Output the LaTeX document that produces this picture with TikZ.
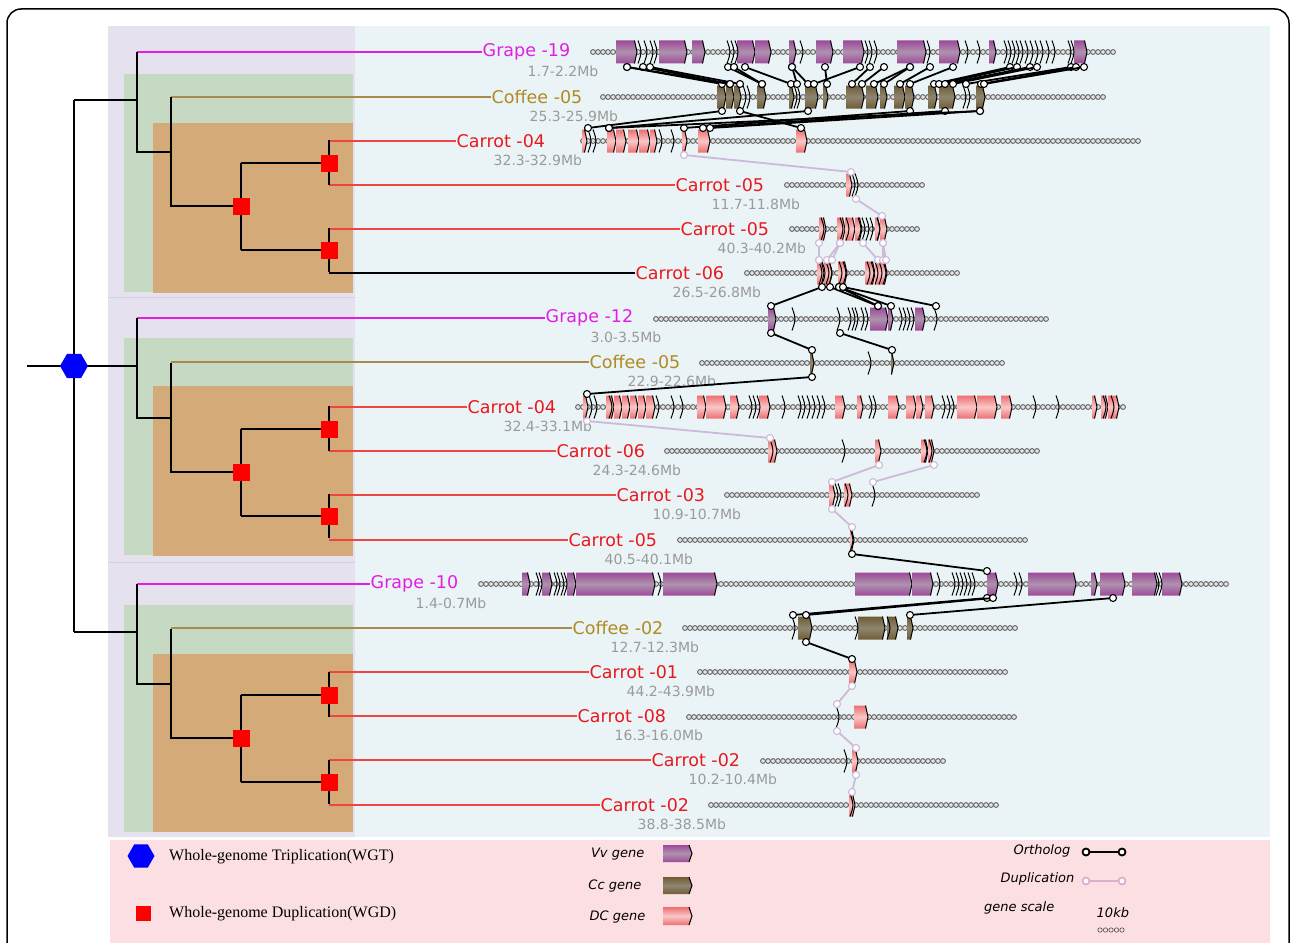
\documentclass[tikz,border=0pt]{standalone}
\usepackage{fontspec}
\setmainfont{DejaVu Sans}
\newfontfamily\serifleg{Liberation Serif}
\usetikzlibrary{shapes.geometric}
\definecolor{panelL}{HTML}{E6E1EE}
\definecolor{panelR}{HTML}{EAF4F6}
\definecolor{greenP}{HTML}{C6D9C3}
\definecolor{orangeP}{HTML}{D3AA78}
\definecolor{legendP}{HTML}{FCDFE2}
\definecolor{grapec}{HTML}{E21EE2}
\definecolor{coffeec}{HTML}{B08A22}
\definecolor{carrotc}{HTML}{E8191E}
\definecolor{coffeeline}{HTML}{A88A4A}
\definecolor{carrotline}{HTML}{EE4444}
\definecolor{subc}{HTML}{9A9A9A}
\definecolor{vvD}{HTML}{9E4A9A}
\definecolor{vvL}{HTML}{AE92AE}
\definecolor{ccD}{HTML}{6E5C35}
\definecolor{ccL}{HTML}{8F8670}
\definecolor{dcD}{HTML}{EE6E70}
\definecolor{dcL}{HTML}{FAC8C8}
\definecolor{dupc}{HTML}{CDB9D9}
\definecolor{dupleg}{HTML}{DBB0CC}
\definecolor{divc}{HTML}{D6D0DE}
\newcounter{lk}
\tikzset{
  tl/.style={line width=1.8pt,black},
  grapel/.style={line width=1.6pt,grapec},
  coffeel/.style={line width=1.6pt,coffeeline},
  carrotl/.style={line width=1.6pt,carrotline},
  blackl/.style={line width=1.6pt,black},
  lab/.style={font=\fontsize{17.5}{20}\selectfont,anchor=west,inner sep=0.5pt},
  sublab/.style={font=\fontsize{14}{16}\selectfont,anchor=west,inner sep=0.5pt,text=subc},
  wgd/.style={fill=red,minimum size=17pt,inner sep=0pt},
  wgt/.style={regular polygon,regular polygon sides=6,fill=blue,minimum size=28pt,inner sep=0pt},
  chaindot/.style={draw=black!62,fill=black!10,line width=0.9pt},
  vv/.style={top color=vvD,bottom color=vvD,middle color=vvL},
  cc/.style={top color=ccD,bottom color=ccD,middle color=ccL},
  dc/.style={top color=dcD,bottom color=dcD,middle color=dcL},
  genedge/.style={line width=1pt,black},
  olk/.style={line width=1.8pt,black},
  dlk/.style={line width=1.8pt,dupc},
  odot/.style={circle,draw=black,fill=white,line width=1.1pt,minimum size=7pt,inner sep=0pt},
  ddot/.style={circle,draw=dupc,fill=white,line width=1.1pt,minimum size=7pt,inner sep=0pt},
  legit/.style={font=\fontsize{13}{15}\selectfont\itshape,inner sep=0.5pt},
}
\newcommand\chainrow[3]{%
  \pgfmathtruncatemacro\nch{(#2-#1)/5}%
  \foreach \i in {0,...,\nch}{\draw[chaindot] (#1+5*\i,#3) circle[radius=2.4];}}
\newcommand\gb[4]{%
  \shade[#4] (#1,#3-11.5) -- (#2-2.5,#3-11.5) -- (#2,#3) -- (#2-2.5,#3+11.5) -- (#1,#3+11.5) -- cycle;
  \draw[genedge] (#2-2.5,#3-11.5) -- (#2,#3) -- (#2-2.5,#3+11.5);}
\newcommand\chv[2]{\draw[genedge] (#1-1,#2-11.5) .. controls (#1+3,#2) .. (#1-1,#2+11.5);}
\newcommand\olink[5]{%
  \stepcounter{lk}%
  \coordinate (la\arabic{lk}) at (#2,#3);
  \coordinate (lb\arabic{lk}) at (#4,#5);
  \draw[#1lk] (la\arabic{lk}) -- (lb\arabic{lk});
  \node[#1dot] at (la\arabic{lk}) {};
  \node[#1dot] at (lb\arabic{lk}) {};}
\newcommand\leaf[9]{%
  \node[lab,text=#5] (#1) at (#4,#3) {#7};
  \node[sublab] (#1s) at (#8,#3+19.5) {#9};
  \draw[#6] (#2,#3) -- (#1.west);}
\begin{document}
\begin{tikzpicture}[x=1pt,y=-1pt]
\useasboundingbox (0,0) rectangle (1292,942);
\clip (0,0) rectangle (1292,942);
\fill[white] (0,0) rectangle (1292,942);
% frame
\draw[line width=1.5pt,rounded corners=14pt] (7,9) rectangle (1289,980);
% panels
\fill[panelR] (355,26) rectangle (1270,837);
\fill[panelL] (108,26) rectangle (355,837);
\draw[divc,line width=0.8pt] (108,297) -- (355,297);
\draw[divc,line width=0.8pt] (108,562) -- (355,562);
\fill[greenP] (124,74) rectangle (353,292);
\fill[orangeP] (153,123) rectangle (353,293);
\fill[greenP] (124,338) rectangle (353,555);
\fill[orangeP] (153,386) rectangle (353,556);
\fill[greenP] (124,605) rectangle (353,832);
\fill[orangeP] (153,654) rectangle (353,832);
\fill[legendP] (110,840) rectangle (1270,960);
% leaves and labels
\leaf{g19}{137}{52}{482}{grapec}{grapel}{Grape -19}{527}{1.7-2.2Mb}
\leaf{c05a}{171}{97}{491}{coffeec}{coffeel}{Coffee -05}{529}{25.3-25.9Mb}
\leaf{k04a}{329}{141}{456}{carrotc}{carrotl}{Carrot -04}{493}{32.3-32.9Mb}
\leaf{k05a}{329}{185}{675}{carrotc}{carrotl}{Carrot -05}{711}{11.7-11.8Mb}
\leaf{k05b}{329}{229}{680}{carrotc}{carrotl}{Carrot -05}{717}{40.3-40.2Mb}
\leaf{k06a}{329}{273}{635}{carrotc}{blackl}{Carrot -06}{672}{26.5-26.8Mb}
\leaf{g12}{137}{318}{545}{grapec}{grapel}{Grape -12}{590}{3.0-3.5Mb}
\leaf{c05b}{171}{362}{589}{coffeec}{coffeel}{Coffee -05}{627}{22.9-22.6Mb}
\leaf{k04b}{329}{407}{467}{carrotc}{carrotl}{Carrot -04}{503}{32.4-33.1Mb}
\leaf{k06b}{329}{451}{556}{carrotc}{carrotl}{Carrot -06}{592}{24.3-24.6Mb}
\leaf{k03}{329}{495}{616}{carrotc}{carrotl}{Carrot -03}{652}{10.9-10.7Mb}
\leaf{k05c}{329}{540}{568}{carrotc}{carrotl}{Carrot -05}{604}{40.5-40.1Mb}
\leaf{g10}{137}{584}{370}{grapec}{grapel}{Grape -10}{415}{1.4-0.7Mb}
\leaf{c02}{171}{628}{572}{coffeec}{coffeel}{Coffee -02}{610}{12.7-12.3Mb}
\leaf{k01}{329}{672}{589}{carrotc}{carrotl}{Carrot -01}{626}{44.2-43.9Mb}
\leaf{k08}{329}{716}{577}{carrotc}{carrotl}{Carrot -08}{614}{16.3-16.0Mb}
\leaf{k02a}{329}{760}{651}{carrotc}{carrotl}{Carrot -02}{688}{10.2-10.4Mb}
\leaf{k02b}{329}{805}{600}{carrotc}{carrotl}{Carrot -02}{637}{38.8-38.5Mb}
% tree
\draw[tl] (74,100) -- (74,632);
\draw[tl] (74,100) -- (137,100);
\draw[tl] (74,632) -- (137,632);
\draw[tl] (27,366) -- (137,366);
\node[wgt] (root) at (74,366) {};
\foreach \d/\p in {0/a,266/b,532/c}{
  \draw[tl] (137,52+\d) -- (137,152+\d) -- (171,152+\d);
  \draw[tl] (171,97+\d) -- (171,206+\d) -- (241,206+\d);
  \draw[tl] (241,163+\d) -- (241,250+\d);
  \draw[tl] (241,163+\d) -- (329,163+\d);
  \draw[tl] (241,250+\d) -- (329,250+\d);
  \draw[tl] (329,140+\d) -- (329,185+\d);
  \draw[tl] (329,228+\d) -- (329,272+\d);
  \node[wgd] (d0\p) at (241,206+\d) {};
  \node[wgd] (d1\p) at (329,163+\d) {};
  \node[wgd] (d2\p) at (329,250+\d) {};
}
% chromosome chains
\foreach \a/\b/\y in {593/1113/52,603/1103/97,583/1138/141,787/922/185,792/917/229,747/961/273,
  656/1050/319,702/1003/363,578/1127/407,667/1040/451,727/979/495,680/1025/540,
  481/1228/584,685/1018/628,700/1007/672,689/1018/717,763/943/761,711/996/805}{\chainrow{\a}{\b}{\y}}
% genes: Grape-19
\foreach \a/\b in {616/637,659/687,692/705,737/755,755/771,789/796,816/833,843/864,897/926,939/960,989/996,1074/1087}{\gb{\a}{\b}{52}{vv}}
\foreach \a in {639,645,651,655,728,732,736,801,866,870,875,928,966,978,1005,1009,1013,1017,1021,1026,1031,1036,1041,1047,1053,1069,1072}{\chv{\a}{52}}
% Coffee-05 a
\foreach \a/\b in {717/726,726/734,734/741,757/766,789/794,805/818,823/828,846/864,866/878,880/887,894/905,905/914,928/937,939/955,976/985}{\gb{\a}{\b}{97}{cc}}
\foreach \a in {744,748,795,798,964,968}{\chv{\a}{97}}
% Carrot-04 a
\foreach \a/\b in {582/587,607/616,616/626,628/639,639/650,650/657,682/687,698/710,796/807}{\gb{\a}{\b}{141}{dc}}
\foreach \a in {589,594,660,672}{\chv{\a}{141}}
% Carrot-05 a
\gb{846}{852}{185}{dc}
\foreach \a in {853,856}{\chv{\a}{185}}
% Carrot-05 b
\foreach \a/\b in {819/826,837/845,845/855,855/862,875/880,880/887}{\gb{\a}{\b}{229}{dc}}
\foreach \a in {822,841,847,859,863,867,871,878}{\chv{\a}{229}}
% Carrot-06 a
\foreach \a/\b in {817/824,824/832,838/847,865/875,875/887}{\gb{\a}{\b}{273}{dc}}
\foreach \a in {820,823,827,830,840,844,868,872,876,880,884}{\chv{\a}{273}}
% Grape-12
\foreach \a/\b in {768/776,870/888,888/893,915/925}{\gb{\a}{\b}{319}{vv}}
\foreach \a in {793,838,849,853,856,862,866,900,904,908,912,935}{\chv{\a}{319}}
% Coffee-05 b
\foreach \a/\b in {810/814,891/894}{\gb{\a}{\b}{363}{cc}}
\foreach \a in {869}{\chv{\a}{363}}
% Carrot-04 b
\foreach \a/\b in {583/588,606/614,614/622,622/630,630/638,638/646,646/655,697/706,706/726,730/739,759/770,835/845,857/863,888/899,906/916,916/923,925/934,957/977,977/997,1001/1012,1092/1097,1101/1108,1108/1119}{\gb{\a}{\b}{407}{dc}}
\foreach \a in {590,595,610,657,672,681,750,754,758,783,799,803,808,813,818,823,870,874,943,948,952,1034,1057,1104,1112}{\chv{\a}{407}}
% Carrot-06 b
\foreach \a/\b in {768/777,875/881,921/928,928/934}{\gb{\a}{\b}{451}{dc}}
\foreach \a in {771,843,925,930}{\chv{\a}{451}}
% Carrot-03
\foreach \a/\b in {829/835,844/852}{\gb{\a}{\b}{495}{dc}}
\foreach \a in {836,839,846,873}{\chv{\a}{495}}
% Carrot-05 c
\gb{850}{854}{540}{dc}
\chv{851}{540}
% Grape-10
\foreach \a/\b in {522/530,542/552,567/576,576/655,663/717,855/912,912/933,987/998,1028/1076,1091/1097,1100/1125,1132/1157,1162/1182}{\gb{\a}{\b}{584}{vv}}
\foreach \a in {537,540,555,558,562,565,659,938,953,957,961,965,969,973,1015,1020,1157,1160}{\chv{\a}{584}}
% Coffee-02
\foreach \a/\b in {798/812,858/885,887/898,907/913}{\gb{\a}{\b}{628}{cc}}
\foreach \a in {793,856,888}{\chv{\a}{628}}
% Carrot-01, -08, -02, -02
\gb{849}{857}{672}{dc}
\gb{854}{868}{717}{dc}
\chv{837}{717}
\gb{852}{858}{761}{dc}
\chv{845}{761}
\gb{849}{855}{805}{dc}
\chv{851}{805}
% ortholog links
\foreach \a/\b in {627/722,643/730,650/740,627/730,728/762,734/762,745/791,792/797,792/808,825/827,860/814,870/852,884/862,910/874,910/884,930/900,953/910,1010/934,1017/939,1030/945,1037/953,1071/966,1076/981,1084/984}{\olink{o}{\a}{67}{\b}{84}}
\foreach \a/\b in {722/588,740/801,808/609,910/684,945/703,980/710,980/609}{\olink{o}{\a}{111}{\b}{128}}
\olink{d}{684}{155}{851}{172}
\olink{d}{856}{199}{882}{216}
\foreach \a/\b in {819/819,840/827,840/832,863/878,883/883,883/886}{\olink{d}{\a}{243}{\b}{260}}
\foreach \a/\b in {822/771,830/878,839/878,839/891,843/936}{\olink{o}{\a}{287}{\b}{306}}
\foreach \a/\b in {771/812,840/892}{\olink{o}{\a}{333}{\b}{350}}
\olink{o}{812}{377}{587}{394}
\olink{d}{587}{421}{770}{438}
\foreach \a/\b in {879/832,934/873}{\olink{d}{\a}{465}{\b}{482}}
\olink{d}{832}{509}{852}{527}
\olink{o}{852}{554}{987}{571}
\foreach \a/\b in {987/793,993/806,1113/910}{\olink{o}{\a}{598}{\b}{615}}
\olink{o}{806}{642}{852}{659}
\olink{d}{852}{686}{837}{704}
\olink{d}{837}{731}{856}{748}
\olink{d}{856}{775}{852}{792}
% legend
\node[wgt,minimum size=27pt] (hexL) at (141,856) {};
\node[anchor=west,inner sep=0pt,font=\serifleg\fontsize{16}{18}\selectfont] (wgtT) at (169,857) {Whole-genome Triplication(WGT)};
\node[fill=red,minimum size=15pt,inner sep=0pt] (sqL) at (143,913) {};
\node[anchor=west,inner sep=0pt,font=\serifleg\fontsize{16}{18}\selectfont] (wgdT) at (169,914) {Whole-genome Duplication(WGD)};
\node[legit,anchor=east] (vvT) at (645,854) {Vv gene};
\node[legit,anchor=east] (ccT) at (642,886) {Cc gene};
\node[legit,anchor=east] (dcT) at (646,917) {DC gene};
\shade[vv] (663,845) -- (689,845) -- (692,853.5) -- (689,862) -- (663,862) -- cycle;
\draw[genedge] (689,845) -- (692,853.5) -- (689,862);
\shade[cc] (663,877) -- (689,877) -- (692,885.5) -- (689,894) -- (663,894) -- cycle;
\draw[genedge] (689,877) -- (692,885.5) -- (689,894);
\shade[dc] (663,907) -- (689,907) -- (692,916) -- (689,925) -- (663,925) -- cycle;
\draw[genedge] (689,907) -- (692,916) -- (689,925);
\node[legit,anchor=east] (orthT) at (1071,851) {Ortholog};
\node[odot,line width=1.8pt,minimum size=7pt] (oL1) at (1086,852) {};
\node[odot,line width=1.8pt,minimum size=7pt] (oL2) at (1122,852) {};
\draw[line width=1.8pt,black] (oL1) -- (oL2);
\node[legit,anchor=east] (dupT) at (1075,879) {Duplication};
\node[circle,draw=dupleg,fill=white,line width=1.8pt,minimum size=7pt,inner sep=0pt] (dL1) at (1086,881) {};
\node[circle,draw=dupleg,fill=white,line width=1.8pt,minimum size=7pt,inner sep=0pt] (dL2) at (1122,881) {};
\draw[line width=1.8pt,dupleg] (dL1) -- (dL2);
\node[legit,anchor=east] (gsT) at (1055,908) {gene scale};
\node[legit,anchor=west] (kbT) at (1096,913) {10kb};
\foreach \i in {0,...,4}{\draw[draw=black!70,line width=0.6pt] (1100+5.5*\i,930) circle[radius=2.2];}
\end{tikzpicture}
\end{document}
